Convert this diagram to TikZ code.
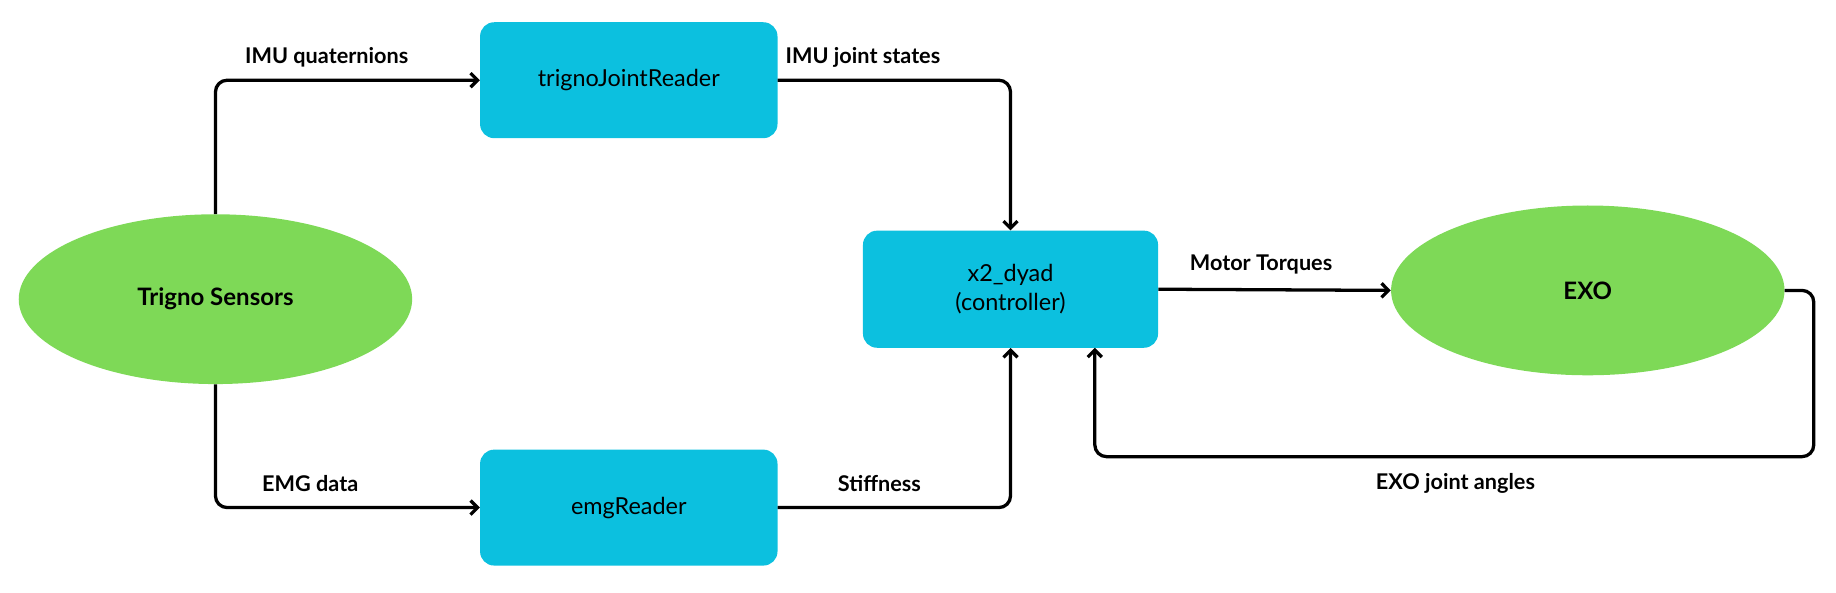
\documentclass[tikz,border=0pt]{standalone}
\usepackage{fontspec}
\setmainfont{Lato}
\usetikzlibrary{shapes.geometric,arrows.meta}
\definecolor{boxcyan}{HTML}{0CC0DF}
\definecolor{ellgreen}{HTML}{7ED957}
\tikzset{
  procbox/.style={rectangle,rounded corners=12pt,fill=boxcyan,draw=none,
    minimum width=254pt,minimum height=99pt,inner sep=0pt,align=center,
    font=\fontsize{20}{25}\selectfont},
  ellnode/.style={ellipse,fill=ellgreen,draw=none,minimum width=336pt,
    minimum height=145pt,inner sep=0pt,font=\bfseries\fontsize{20.5}{24}\selectfont},
  lbl/.style={inner sep=0pt,font=\bfseries\fontsize{18.5}{22}\selectfont},
  arr/.style={line width=2.8pt,rounded corners=10pt,
    -{Straight Barb[length=6pt,width=12pt,line width=2.8pt]}},
}
\begin{document}
\begin{tikzpicture}[x=1pt,y=-1pt]
\useasboundingbox (0,0) rectangle (1568,505.6);
\node[ellnode] (trigno) at (184,255.5) {Trigno Sensors};
\node[ellnode] (exo) at (1356,248) {EXO};
\node[procbox] (tjr) at (537,68.5) {trignoJointReader};
\node[procbox] (emg) at (537,433.5) {emgReader};
\node[procbox,minimum width=252pt,minimum height=100pt] (dyad) at (863,247) {x2\_dyad\\(controller)};
\coordinate (fbc) at (1549,390);
\coordinate (fbin) at (935,297);
\draw[arr] (trigno.north) |- (tjr.west);
\draw[arr] (tjr.east) -| (dyad.north);
\draw[arr] (trigno.south) |- (emg.west);
\draw[arr] (emg.east) -| (dyad.south);
\draw[arr] (dyad.east) -- (exo.west);
\draw[arr] (exo.east) -| (fbc) -| (fbin);
\node[lbl] (l1) at (279,49) {IMU quaternions};
\node[lbl] (l2) at (737,49) {IMU joint states};
\node[lbl] (l3) at (265,413) {EMG data};
\node[lbl] (l4) at (751,413) {Stiffness};
\node[lbl] (l5) at (1077,226) {Motor Torques};
\node[lbl] (l6) at (1243,413) {EXO joint angles};
\end{tikzpicture}
\end{document}
